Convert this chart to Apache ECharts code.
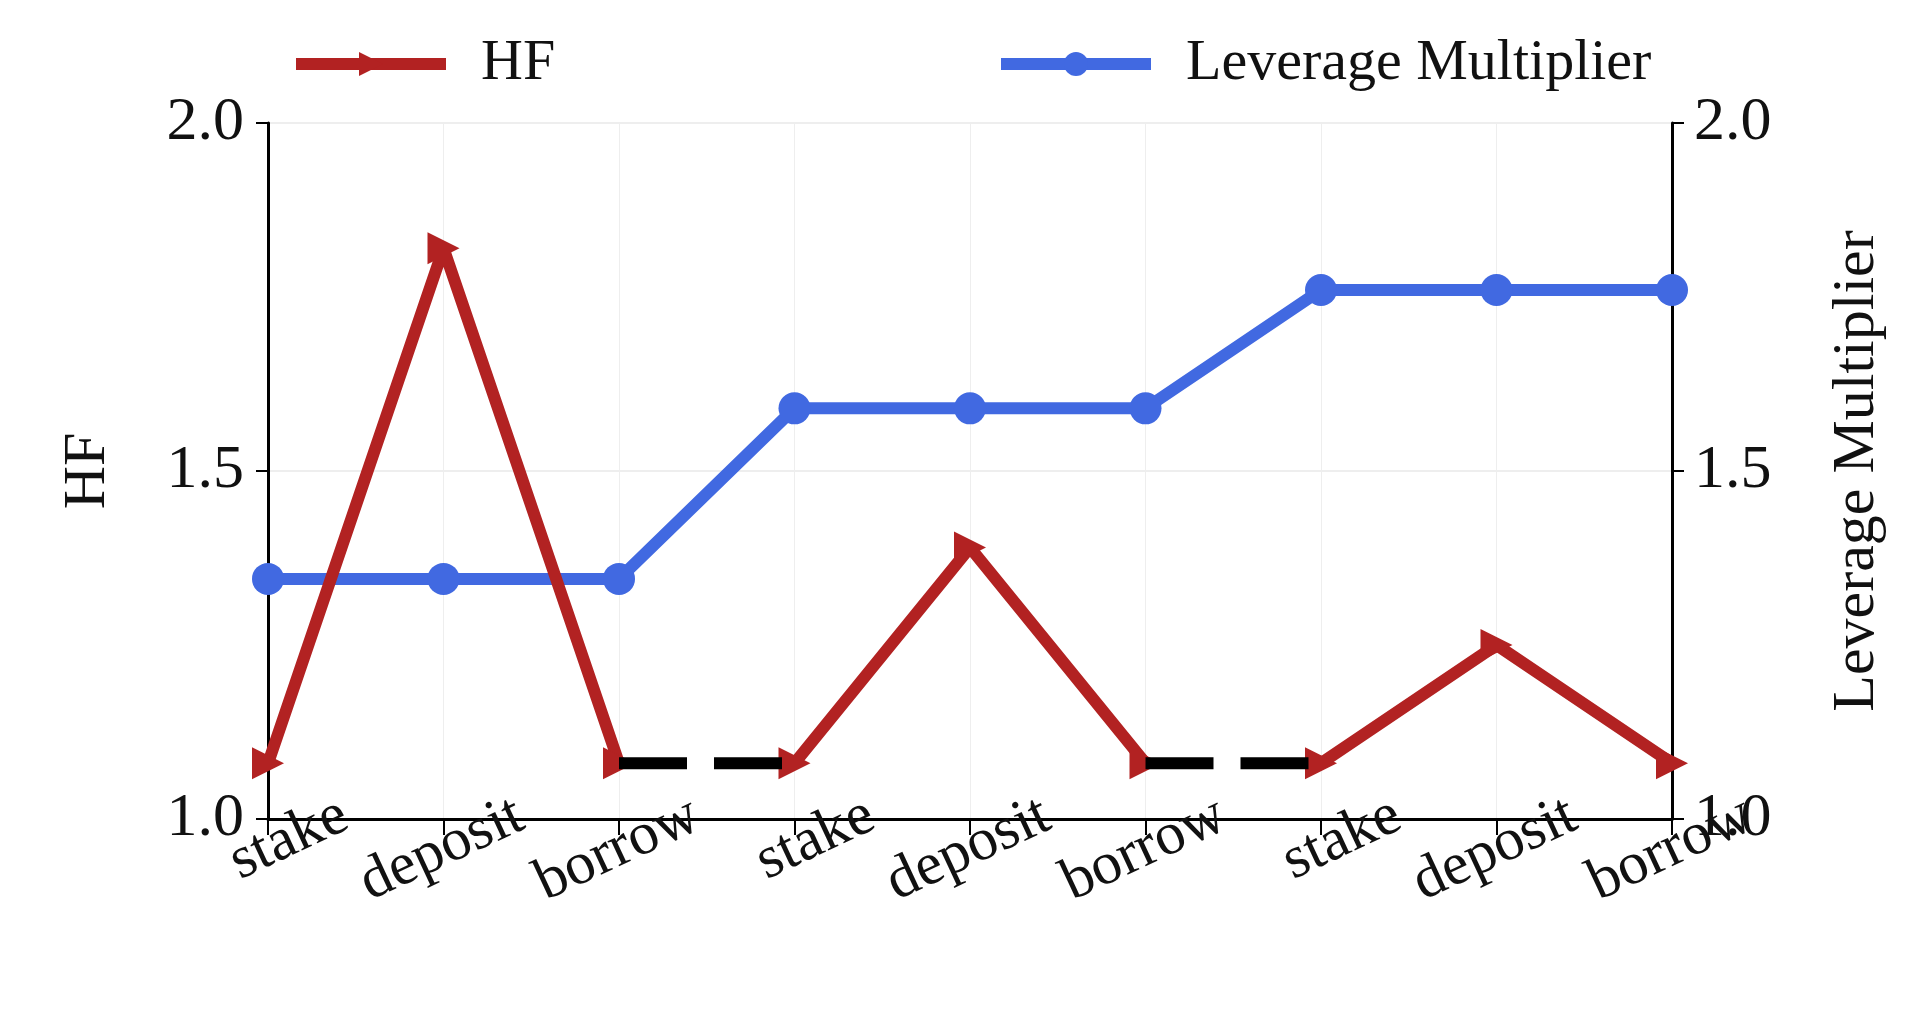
<!DOCTYPE html>
<html>
<head>
<meta charset="utf-8">
<script src="https://cdn.jsdelivr.net/npm/echarts@6/dist/echarts.min.js"></script>
<style>html,body{margin:0;background:#fff}#chart{width:1920px;height:1031px}</style>
</head>
<body>
<div id="chart"></div>
<script>
const steps = ['stake','deposit','borrow','stake','deposit','borrow','stake','deposit','borrow']
const hfA = [1.08, 1.82, 1.08, null, null, null, null, null, null]
const hfB = [null, null, null, 1.08, 1.39, 1.08, null, null, null]
const hfC = [null, null, null, null, null, null, 1.08, 1.25, 1.08]
const waitLine = [null, null, 1.08, 1.08, null, 1.08, 1.08, null, null]
const leverage = [1.345, 1.345, 1.345, 1.59, 1.59, 1.59, 1.76, 1.76, 1.76]

const font = 'Liberation Serif'
const red = '#b22222', blue = '#4169e1'
const hfSeries = (d) => ({
  name: 'HF', type: 'line', data: d, yAxisIndex: 0,
  symbol: 'triangle', symbolRotate: -90, symbolSize: 32,
  lineStyle: {color: red, width: 12}, itemStyle: {color: red}, z: 3
})
const chart = echarts.init(document.getElementById('chart'))
chart.setOption({
  animation: false,
  legend: [
    {data: ['HF'], left: 285, top: 30, itemWidth: 150, itemHeight: 30, itemGap: 20,
     lineStyle: {width: 12},
     textStyle: {fontFamily: font, fontSize: 58, color: '#111', padding: [0, 0, 0, 30]}},
    {data: ['Leverage Multiplier'], left: 990, top: 30, itemWidth: 150, itemHeight: 30,
     lineStyle: {width: 12},
     textStyle: {fontFamily: font, fontSize: 58, color: '#111', padding: [0, 0, 0, 30]}}
  ],
  grid: {left: 268, right: 248, top: 123, bottom: 212},
  xAxis: {
    type: 'category', data: steps, boundaryGap: false,
    axisLine: {lineStyle: {color: '#000', width: 3}},
    axisTick: {length: 16, lineStyle: {color: '#000', width: 2}},
    axisLabel: {interval: 0, rotate: 25, fontFamily: font, fontSize: 60, color: '#111', margin: 30,
      padding: [0, -85, 0, 0]},
    splitLine: {show: true, lineStyle: {color: '#eee', width: 1}}
  },
  yAxis: [
    {type: 'value', min: 1, max: 2, interval: 0.5, name: 'HF', nameLocation: 'middle', nameGap: 150,
     nameTextStyle: {fontFamily: font, fontSize: 60, color: '#111'},
     axisLine: {show: true, lineStyle: {color: '#000', width: 3}},
     axisTick: {show: true, length: 12, lineStyle: {color: '#000', width: 2}},
     axisLabel: {fontFamily: font, fontSize: 62, color: '#111', margin: 24, formatter: v => v.toFixed(1)},
     splitLine: {lineStyle: {color: '#eee', width: 2}}},
    {type: 'value', min: 1, max: 2, interval: 0.5, name: 'Leverage Multiplier', nameLocation: 'middle', nameGap: 155,
     nameRotate: 90,
     nameTextStyle: {fontFamily: font, fontSize: 60, color: '#111'},
     axisLine: {show: true, lineStyle: {color: '#000', width: 3}},
     axisTick: {show: true, length: 12, lineStyle: {color: '#000', width: 2}},
     axisLabel: {fontFamily: font, fontSize: 62, color: '#111', margin: 22, formatter: v => v.toFixed(1)},
     splitLine: {show: false}}
  ],
  series: [
    hfSeries(hfA), hfSeries(hfB), hfSeries(hfC),
    {type: 'line', data: waitLine, yAxisIndex: 0, symbol: 'none', z: 4,
     lineStyle: {color: '#000', width: 12, type: [68, 27]}},
    {name: 'Leverage Multiplier', type: 'line', data: leverage, yAxisIndex: 1,
     symbol: 'circle', symbolSize: 32, z: 2,
     lineStyle: {color: blue, width: 12}, itemStyle: {color: blue}}
  ]
})
</script>
</body>
</html>
